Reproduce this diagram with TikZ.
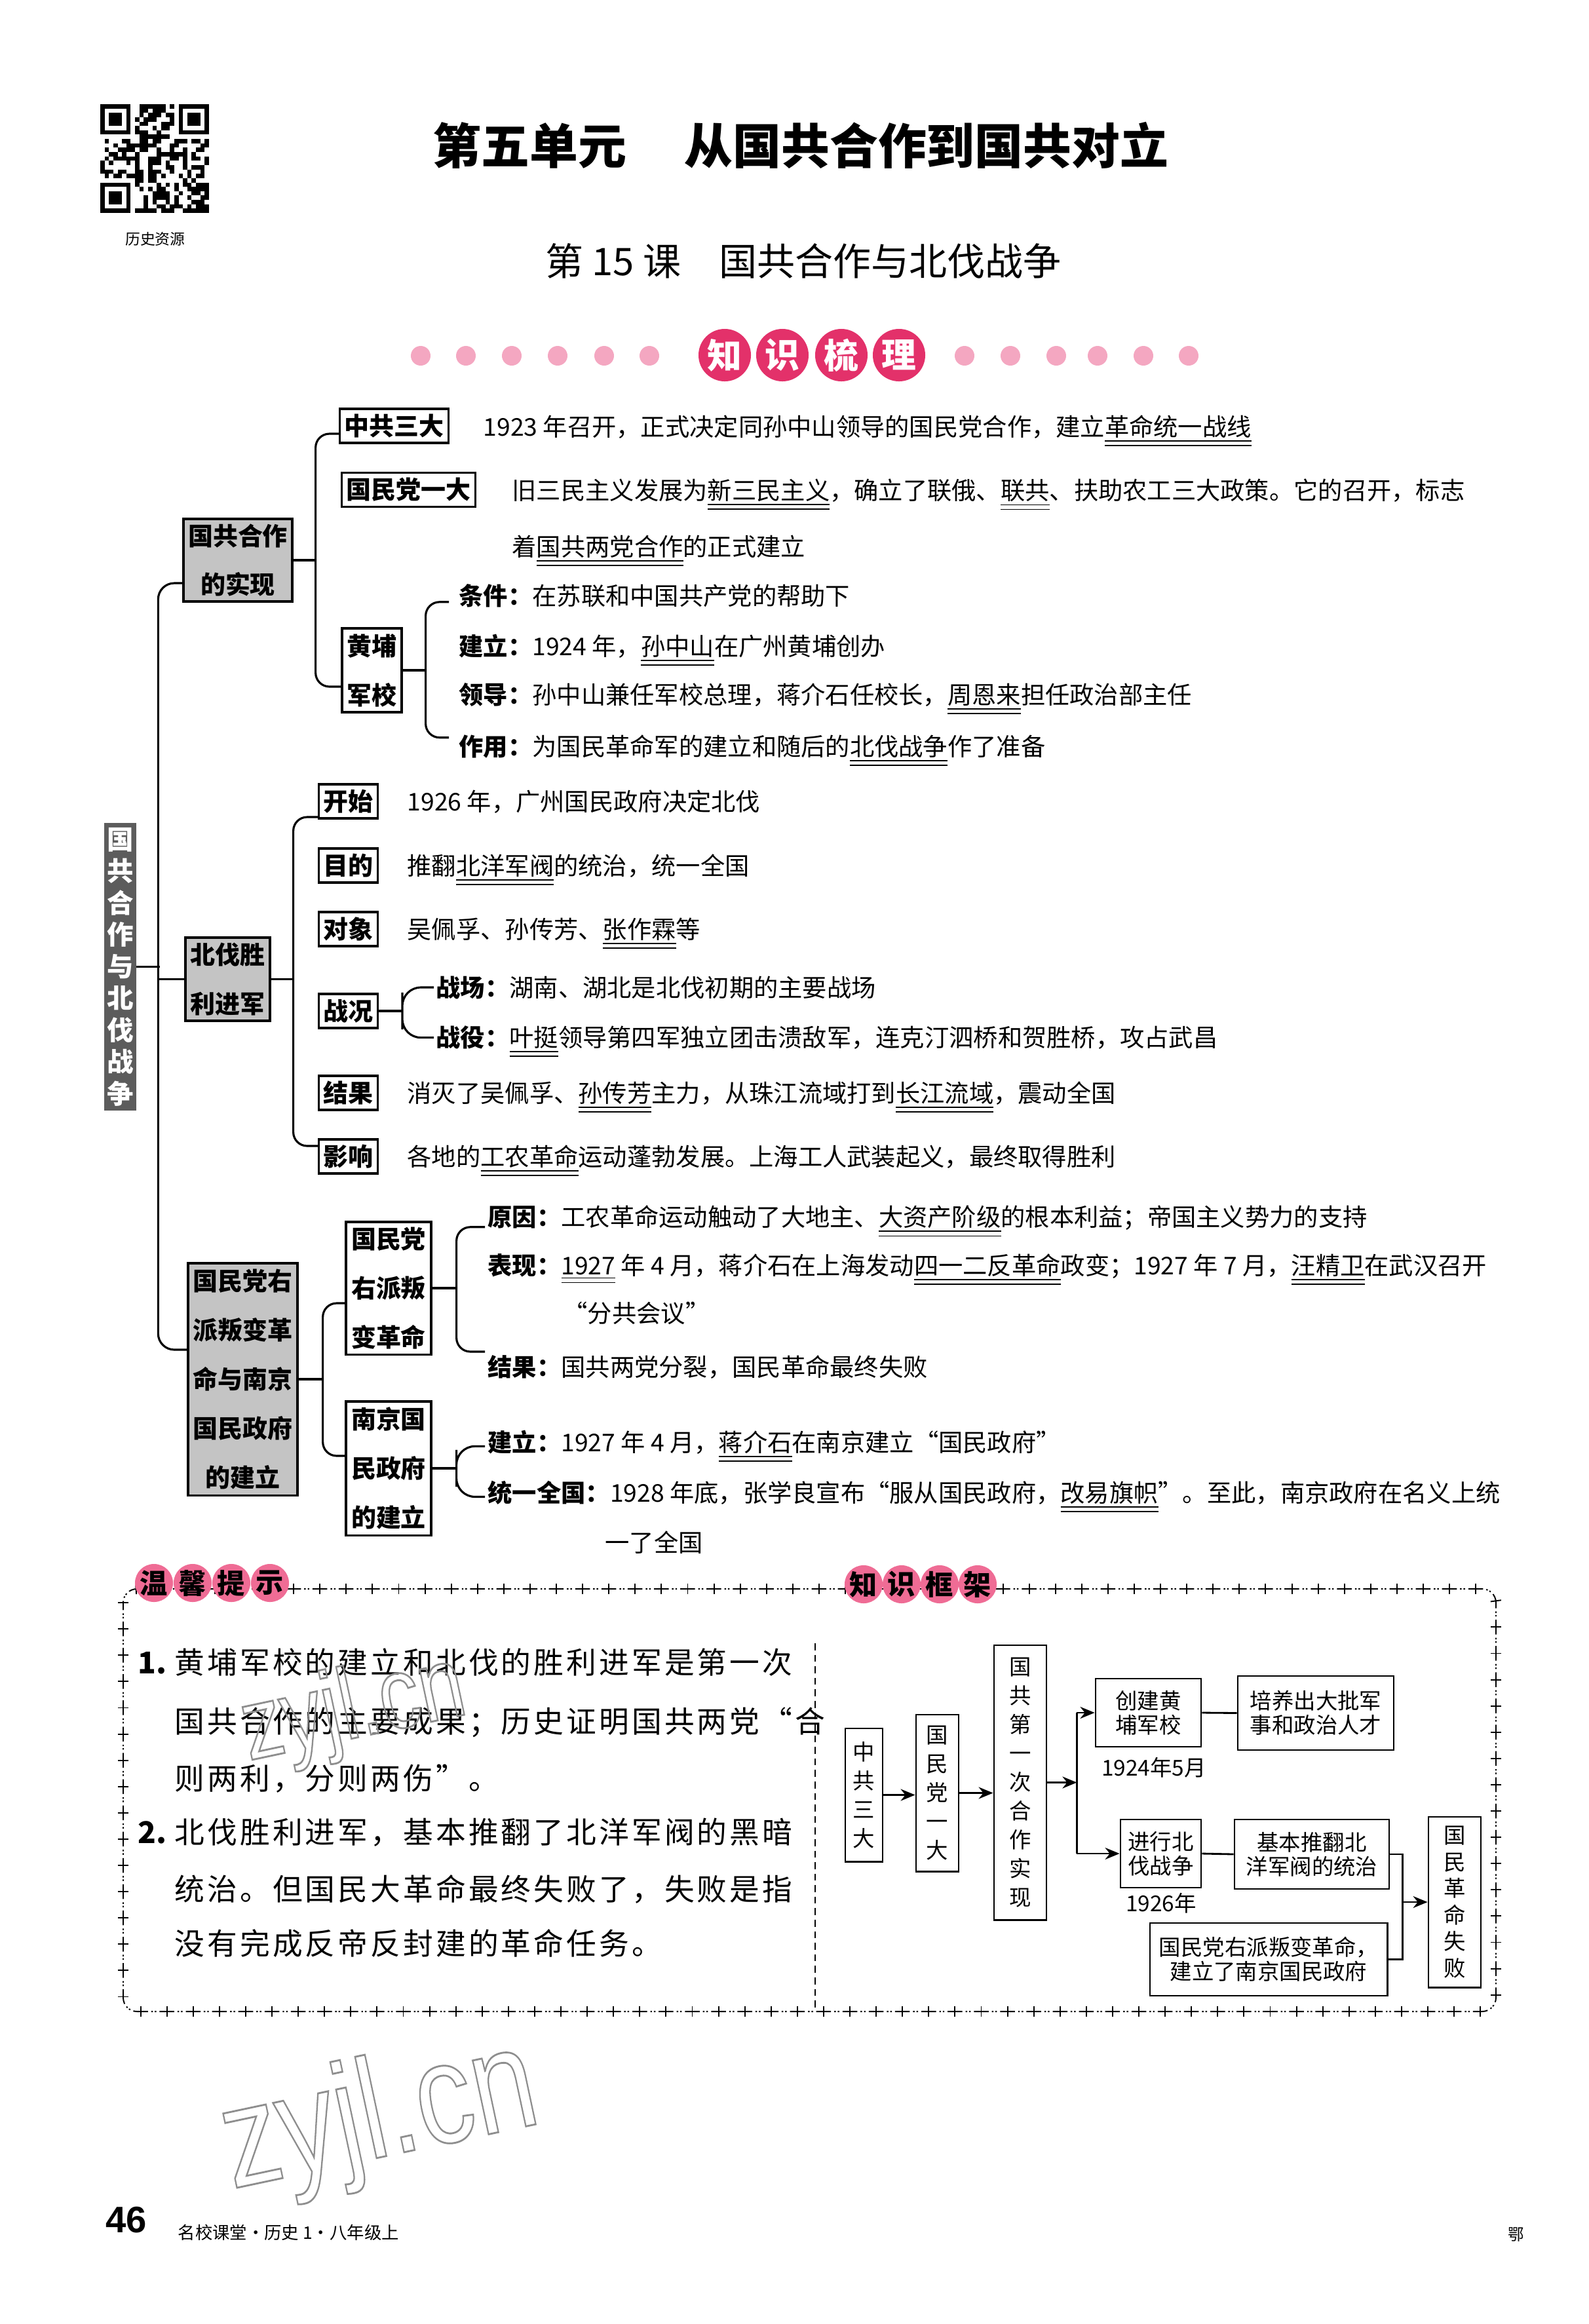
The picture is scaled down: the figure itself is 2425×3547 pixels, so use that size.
\documentclass[tikz,border=0pt]{standalone}
\usepackage{fontspec}
\setmainfont{Noto Sans CJK SC}
\newfontfamily\numfont{Liberation Sans}
\usepackage{xcolor}
\usetikzlibrary{arrows.meta, calc, decorations.markings}
\definecolor{DotP}{HTML}{F4A7C1}
\definecolor{TagR}{HTML}{E3316A}
\definecolor{TagP}{HTML}{EF6C95}
\definecolor{GryF}{HTML}{C4C4C4}
\definecolor{BanF}{HTML}{5C5C5C}
\definecolor{WmkG}{HTML}{8E8E8E}
\newcommand{\du}[1]{\underline{\underline{#1}}}
\newcommand{\outl}[1]{\special{pdf:literal direct 1 Tr 0.8 w}#1\special{pdf:literal direct 0 Tr}}
\tikzset{
  BOX/.style={draw, line width=0.9pt, fill=white,
    font=\fontsize{10.8}{12}\selectfont\bfseries,
    inner xsep=0.07cm, inner ysep=0pt, minimum height=0.52cm},
  GRY/.style={draw, line width=0.9pt, fill=GryF, align=center,
    font=\fontsize{10.8}{21.3}\selectfont\bfseries, inner sep=0pt},
  VBX/.style={draw, line width=0.9pt, fill=white, align=center,
    font=\fontsize{10.8}{21.3}\selectfont\bfseries, inner sep=0pt},
  TXT/.style={anchor=base west, inner sep=0pt,
    font=\fontsize{10.6}{12}\selectfont},
  LNK/.style={line width=0.9pt, rounded corners=#1},
  LNK/.default=6pt,
  TAG/.style={circle, fill=#1, inner sep=0pt, minimum size=0.8cm,
    text=white, font=\fontsize{15}{15}\selectfont\bfseries},
  TIP/.style={circle, fill=TagP, inner sep=0pt, minimum size=0.58cm,
    font=\fontsize{12}{12}\selectfont\bfseries},
  TTX/.style={anchor=base west, inner sep=0pt,
    font=\fontsize{13}{14}\selectfont\addfontfeatures{LetterSpace=9}},
  STC/.style={line width=0.55pt,
    dash pattern=on 6.4pt off 1.4pt on 0.7pt off 0.8pt on 0.7pt off 1.4pt,
    dash phase=3.2pt,
    postaction={decorate, decoration={markings,
      mark=between positions 0 and 1 step 11.4pt with
      {\draw[solid, line width=0.55pt] (0pt,-2.3pt) -- (0pt,2.3pt);}}}},
  FBX/.style={draw, line width=0.8pt, fill=white, align=center,
    inner sep=0pt, font=\fontsize{9.5}{10.6}\selectfont},
  FVB/.style={FBX, font=\fontsize{9.5}{12.5}\selectfont},
  FLN/.style={line width=0.8pt},
  FAR/.style={line width=0.8pt, -{Stealth[length=2.2mm,width=1.8mm]}},
}

\begin{document}
\begin{tikzpicture}[x=0.01cm,y=-0.01cm]
\useasboundingbox (0,0) rectangle (2425,3547);

%================ QR CODE =================
\pgfmathsetseed{1923}
\foreach \i in {0,...,24}{
  \foreach \j in {0,...,24}{
    \pgfmathtruncatemacro{\qrskip}{(\i<8 && \j<8) || (\i>16 && \j<8) || (\i<8 && \j>16)}
    \pgfmathtruncatemacro{\qron}{rnd<0.5}
    \ifnum\qrskip=0 \ifnum\qron=1
      \fill (153+\i*6.64,159+\j*6.64) rectangle ++(6.64,6.64);
    \fi\fi
  }
}
\foreach \ox/\oy in {153/159, 272.52/159, 153/278.52}{
  \fill (\ox,\oy) rectangle ++(46.48,46.48);
  \fill[white] (\ox+6.64,\oy+6.64) rectangle ++(33.2,33.2);
  \fill (\ox+13.28,\oy+13.28) rectangle ++(19.92,19.92);
}
\node[font=\fontsize{6.5}{7}\selectfont] (qrcap) at (237,365) {历史资源};

%================ TITLES =================
\node[font=\fontsize{21}{24}\selectfont\bfseries] (unit) at (1222,222)
  {第五单元\hspace{1.2em}从国共合作到国共对立};
\node[font=\fontsize{16.5}{18}\selectfont] (lesson) at (1226,398)
  {第 15 课\hspace{1em}国共合作与北伐战争};

\foreach \x in {642,711,781,851,922,991,1472,1542,1612,1675,1745,1814}
  \fill[DotP] (\x,543) circle[radius=0.15cm];
\node[TAG=TagR] (tagA) at (1106,542) {知};
\node[TAG=TagR] (tagB) at (1194,542) {识};
\node[TAG=TagR] (tagC) at (1284,542) {梳};
\node[TAG=TagR] (tagD) at (1372,542) {理};

%================ MAIN BRANCHES =================
\node[draw=BanF, fill=BanF, text=white, align=center, inner sep=0pt,
  minimum width=0.47cm, minimum height=4.37cm,
  font=\fontsize{11.5}{13.8}\selectfont\bfseries]
  (ban) at (183.5,1475.5) {国\\共\\合\\作\\与\\北\\伐\\战\\争};

\node[GRY, minimum width=1.66cm, minimum height=1.26cm] (gz1) at (363,855)
  {国共合作\\的实现};
\node[GRY, minimum width=1.29cm, minimum height=1.27cm] (gz2) at (347.5,1494.5)
  {北伐胜\\利进军};
\node[GRY, minimum width=1.67cm, minimum height=3.54cm] (gz3) at (370.5,2105)
  {国民党右\\派叛变革\\命与南京\\国民政府\\的建立};

%================ 国共合作的实现 =================
\node[BOX, anchor=west] (zgsd) at (517,650) {中共三大};
\node[BOX, anchor=west] (gmyd) at (520,747.5) {国民党一大};
\node[VBX, minimum width=0.91cm, minimum height=1.28cm] (hpjx) at (567.5,1023)
  {黄埔\\军校};

\node[TXT] (t1) at (737,665)
  {1923 年召开，正式决定同孙中山领导的国民党合作，建立\du{革命统一战线}};
\node[TXT] (t2) at (781,762)
  {旧三民主义发展为\du{新三民主义}，确立了联俄、\du{联共}、扶助农工三大政策。它的召开，标志};
\node[TXT] (t2b) at (781,848) {着\du{国共两党合作}的正式建立};

\node[TXT] (tj) at (700,923) {\textbf{条件：}在苏联和中国共产党的帮助下};
\node[TXT] (jl) at (700,1000) {\textbf{建立：}1924 年，\du{孙中山}在广州黄埔创办};
\node[TXT] (ld) at (700,1074)
  {\textbf{领导：}孙中山兼任军校总理，蒋介石任校长，\du{周恩来}担任政治部主任};
\node[TXT] (zy) at (700,1153)
  {\textbf{作用：}为国民革命军的建立和随后的\du{北伐战争}作了准备};

%================ 北伐胜利进军 =================
\node[BOX] (ks) at (531.5,1223) {开始};
\node[BOX] (md) at (531.5,1321) {目的};
\node[BOX] (dx) at (531.5,1418) {对象};
\node[BOX] (zk) at (531.5,1543) {战况};
\node[BOX] (jg) at (531.5,1668) {结果};
\node[BOX] (yx) at (531.5,1765) {影响};

\node[TXT] (ksT) at (621,1237) {1926 年，广州国民政府决定北伐};
\node[TXT] (mdT) at (621,1335) {推翻\du{北洋军阀}的统治，统一全国};
\node[TXT] (dxT) at (621,1432) {吴佩孚、孙传芳、\du{张作霖}等};
\node[TXT] (zc) at (665,1521) {\textbf{战场：}湖南、湖北是北伐初期的主要战场};
\node[TXT] (zy2) at (665,1597)
  {\textbf{战役：}\du{叶挺}领导第四军独立团击溃敌军，连克汀泗桥和贺胜桥，攻占武昌};
\node[TXT] (jgT) at (621,1682)
  {消灭了吴佩孚、\du{孙传芳}主力，从珠江流域打到\du{长江流域}，震动全国};
\node[TXT] (yxT) at (621,1779)
  {各地的\du{工农革命}运动蓬勃发展。上海工人武装起义，最终取得胜利};

%================ 国民党右派叛变革命与南京国民政府的建立 =================
\node[VBX, minimum width=1.30cm, minimum height=2.02cm] (pb) at (593,1966)
  {国民党\\右派叛\\变革命};
\node[VBX, minimum width=1.30cm, minimum height=2.04cm] (nj) at (593,2241)
  {南京国\\民政府\\的建立};

\node[TXT] (yy) at (744,1871)
  {\textbf{原因：}工农革命运动触动了大地主、\du{大资产阶级}的根本利益；帝国主义势力的支持};
\node[TXT] (bx) at (744,1945)
  {\textbf{表现：}\du{1927} 年 4 月，蒋介石在上海发动\du{四一二反革命}政变；1927 年 7 月，\du{汪精卫}在武汉召开};
\node[TXT] (fg) at (859,2018) {“分共会议”};
\node[TXT] (jg2) at (744,2100) {\textbf{结果：}国共两党分裂，国民革命最终失败};
\node[TXT] (jl2) at (744,2215)
  {\textbf{建立：}1927 年 4 月，\du{蒋介石}在南京建立“国民政府”};
\node[TXT] (tq) at (744,2292)
  {\textbf{统一全国：}1928 年底，张学良宣布“服从国民政府，\du{改易旗帜}”。至此，南京政府在名义上统};
\node[TXT] (yl) at (923,2368) {一了全国};

%================ TREE LINKS =================
\draw[LNK=7pt] ($(gz1.west)+(0,35)$) -| ($(gz3.west)+(-44,-45)$) -- ($(gz3.west)+(0,-45)$);
\draw[LNK] (ban.east) -- ++(36,0);
\draw[LNK] (gz2.west) -- ++(-40,0);

\draw[LNK] (gz1.east) -- ++(34,0);
\draw[LNK] ($(zgsd.west)+(0,12)$) -| ($(gz1.east)+(34,0)$) |- ($(hpjx.west)+(0,25)$);
\draw[LNK] (hpjx.east) -- ++(35,0);
\draw[LNK] ($(tj.west)+(-15,10)$) -| ($(hpjx.east)+(35,0)$) |- ($(zy.west)+(-15,-20)$);

\draw[LNK] (gz2.east) -- ++(34,0);
\draw[LNK] ($(ks.west)+(0,24)$) -| ($(gz2.east)+(34,0)$) |- ($(yx.west)+(0,-16)$);
\draw[LNK] (zk.east) -- ++(36,0);
\draw[LNK=8pt] ($(zc.west)+(-3,0)$) -| ($(zk.east)+(36,0)$) |- ($(zy2.west)+(-3,-6)$);

\draw[LNK] (gz3.east) -- ++(37,0);
\draw[LNK] ($(pb.west)+(0,23)$) -| ($(gz3.east)+(37,0)$) |- ($(nj.west)+(0,-19)$);
\draw[LNK] (pb.east) -- ++(37,0);
\draw[LNK] ($(yy.west)+(-4,9)$) -| ($(pb.east)+(37,0)$) |- ($(jg2.west)+(-4,-23)$);
\draw[LNK] (nj.east) -- ++(37,0);
\draw[LNK=8pt] ($(jl2.west)+(-4,0)$) -| ($(nj.east)+(37,0)$) |- ($(tq.west)+(-4,0)$);

%================ TIPS FRAME =================
\draw[STC, rounded corners=6pt] (188,2425) rectangle (2283,3070);
\draw[line width=0.5pt, dash pattern=on 3pt off 2pt] (1244,2508) -- (1244,3070);

\node[TIP] (wx1) at (235,2416) {温};
\node[TIP] (wx2) at (294,2416) {馨};
\node[TIP] (wx3) at (353,2416) {提};
\node[TIP] (wx4) at (412,2416) {示};
\node[TIP] (zs1) at (1318,2418) {知};
\node[TIP] (zs2) at (1376,2418) {识};
\node[TIP] (zs3) at (1434,2418) {框};
\node[TIP] (zs4) at (1492,2418) {架};

\node[TTX, font=\fontsize{13}{14}\selectfont\bfseries] (n1) at (210,2554) {1.};
\node[TTX] (p1a) at (266,2554) {黄埔军校的建立和北伐的胜利进军是第一次};
\node[TTX] (p1b) at (266,2644) {国共合作的主要成果；历史证明国共两党“合};
\node[TTX] (p1c) at (266,2731) {则两利，分则两伤”。};
\node[TTX, font=\fontsize{13}{14}\selectfont\bfseries] (n2) at (210,2813) {2.};
\node[TTX] (p2a) at (266,2813) {北伐胜利进军，基本推翻了北洋军阀的黑暗};
\node[TTX] (p2b) at (266,2900) {统治。但国民大革命最终失败了，失败是指};
\node[TTX] (p2c) at (266,2983) {没有完成反帝反封建的革命任务。};

%================ KNOWLEDGE FRAME =================
\node[FVB, minimum width=0.57cm, minimum height=2.03cm] (f1) at (1318.5,2739.5)
  {中\\共\\三\\大};
\node[FVB, minimum width=0.65cm, minimum height=2.39cm] (f2) at (1430.5,2736.5)
  {国\\民\\党\\一\\大};
\node[FVB, minimum width=0.80cm, minimum height=4.19cm] (f3) at (1557,2720.5)
  {国\\共\\第\\一\\次\\合\\作\\实\\现};
\node[FBX, minimum width=1.61cm, minimum height=1.04cm] (f4) at (1752.5,2614)
  {创建黄\\埔军校};
\node[FBX, minimum width=2.38cm, minimum height=1.13cm] (f5) at (2008,2614.5)
  {培养出大批军\\事和政治人才};
\node[FBX, minimum width=1.23cm, minimum height=1.04cm] (f6) at (1771.5,2829)
  {进行北\\伐战争};
\node[FBX, minimum width=2.36cm, minimum height=1.06cm] (f7) at (2002,2830)
  {基本推翻北\\洋军阀的统治};
\node[FBX, minimum width=3.62cm, minimum height=1.11cm] (f8) at (1936,2990.5)
  {国民党右派叛变革命，\\建立了南京国民政府};
\node[FVB, font=\fontsize{9.5}{11.5}\selectfont, minimum width=0.80cm,
  minimum height=2.60cm] (f9) at (2220,2903) {国\\民\\革\\命\\失\\败};
\node[font=\fontsize{9.5}{10}\selectfont, inner sep=0pt] (d1) at (1761,2698) {1924年5月};
\node[font=\fontsize{9.5}{10}\selectfont, inner sep=0pt] (d2) at (1772,2905) {1926年};

\draw[FAR] (f1.east) -- (f1.east -| f2.west);
\draw[FAR] (f2.east) -- (f2.east -| f3.west);
\draw[FAR] (f3.east) -- ++(45,0) coordinate (fk);
\draw[FLN] (fk |- f4.west) -- (fk |- f6.west);
\draw[FAR] (fk |- f4.west) -- (f4.west);
\draw[FAR] (fk |- f6.west) -- (f6.west);
\draw[FLN] (f4.east) -- (f5.west);
\draw[FLN] (f6.east) -- (f7.west);
\draw[FLN] (f7.east) -- ++(19,0) coordinate (fm) |- (f8.east);
\draw[FAR] (fm |- f9.west) -- (f9.west);

%================ WATERMARKS =================
\node[WmkG, rotate=12, font=\numfont\fontsize{44}{44}\selectfont, xscale=0.8]
  (wm1) at (540,2612) {\outl{zyjl.cn}};
\node[WmkG, rotate=12, font=\numfont\fontsize{62}{62}\selectfont, xscale=0.8]
  (wm2) at (580,3235) {\outl{zyjl.cn}};

%================ FOOTER =================
\node[font=\numfont\fontsize{16}{16}\selectfont\bfseries, inner sep=0pt] (pg) at (193,3388) {46};
\node[anchor=west, inner sep=0pt, font=\fontsize{7.5}{8}\selectfont] (book) at (271,3407)
  {名校课堂·历史 1·八年级上};
\node[inner sep=0pt, font=\fontsize{7}{8}\selectfont] (prov) at (2314,3410) {鄂};

\end{tikzpicture}
\end{document}
